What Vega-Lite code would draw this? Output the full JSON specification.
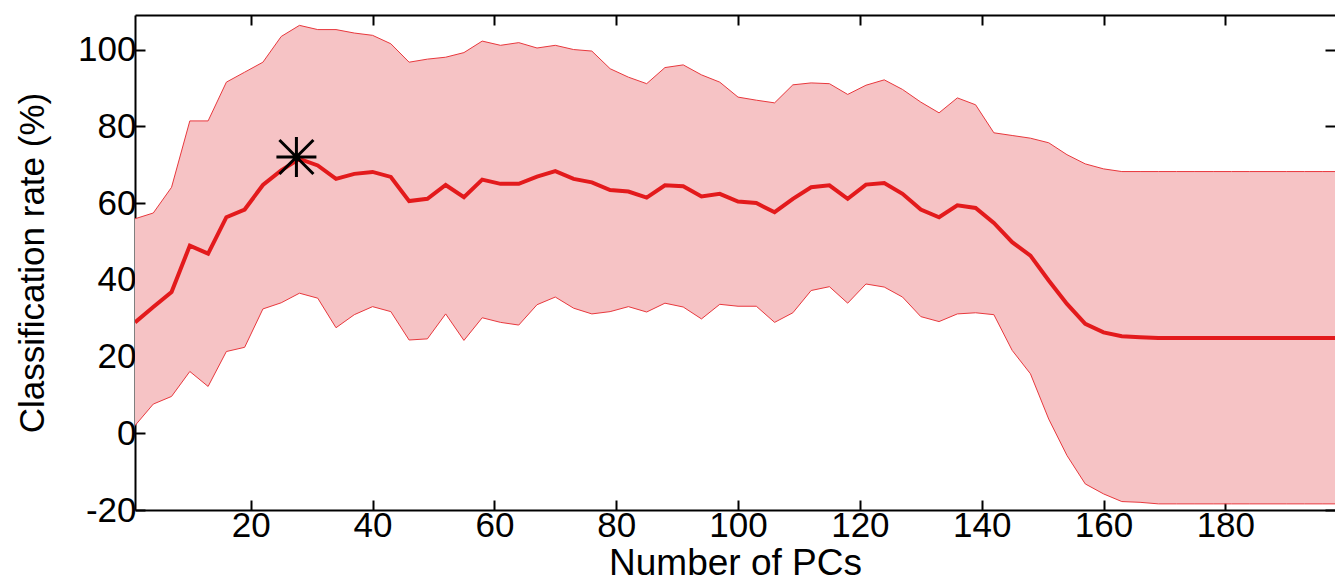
{
  "$schema": "https://vega.github.io/schema/vega-lite/v6.json",
  "width": 1200,
  "height": 495,
  "autosize": {"type": "none"},
  "padding": {"left": 135, "top": 15, "right": 0, "bottom": 73},
  "background": "white",
  "config": {
    "view": {"stroke": null},
    "axis": {
      "grid": false,
      "domainColor": "black",
      "domainWidth": 2,
      "tickColor": "black",
      "tickWidth": 2,
      "tickSize": -10,
      "labelColor": "black",
      "labelFont": "Liberation Sans",
      "labelFontSize": 35,
      "titleFont": "Liberation Sans",
      "titleColor": "black",
      "titleFontWeight": "normal",
      "labelFlush": false,
      "labelOverlap": false
    }
  },
  "datasets": {
    "band": [
      {"pc": 1, "lo": 2.0, "mean": 28.9, "hi": 55.9},
      {"pc": 4, "lo": 7.6, "mean": 32.9, "hi": 57.4},
      {"pc": 7, "lo": 9.6, "mean": 36.8, "hi": 64.1},
      {"pc": 10, "lo": 16.1, "mean": 48.9, "hi": 81.4},
      {"pc": 13, "lo": 12.2, "mean": 46.8, "hi": 81.4},
      {"pc": 16, "lo": 21.3, "mean": 56.3, "hi": 91.5},
      {"pc": 19, "lo": 22.4, "mean": 58.3, "hi": 94.1},
      {"pc": 22, "lo": 32.4, "mean": 64.7, "hi": 96.7},
      {"pc": 25, "lo": 34.0, "mean": 68.5, "hi": 103.4},
      {"pc": 28, "lo": 36.5, "mean": 71.5, "hi": 106.3},
      {"pc": 31, "lo": 35.2, "mean": 69.8, "hi": 105.2},
      {"pc": 34, "lo": 27.5, "mean": 66.3, "hi": 105.2},
      {"pc": 37, "lo": 30.9, "mean": 67.6, "hi": 104.3},
      {"pc": 40, "lo": 33.0, "mean": 68.1, "hi": 103.7},
      {"pc": 43, "lo": 31.7, "mean": 66.8, "hi": 101.5},
      {"pc": 46, "lo": 24.3, "mean": 60.5, "hi": 96.7},
      {"pc": 49, "lo": 24.6, "mean": 61.1, "hi": 97.5},
      {"pc": 52, "lo": 31.1, "mean": 64.7, "hi": 98.0},
      {"pc": 55, "lo": 24.2, "mean": 61.5, "hi": 99.2},
      {"pc": 58, "lo": 30.1, "mean": 66.1, "hi": 102.2},
      {"pc": 61, "lo": 28.9, "mean": 65.0, "hi": 101.1},
      {"pc": 64, "lo": 28.2, "mean": 65.0, "hi": 101.8},
      {"pc": 67, "lo": 33.5, "mean": 66.9, "hi": 100.4},
      {"pc": 70, "lo": 35.5, "mean": 68.3, "hi": 101.1},
      {"pc": 73, "lo": 32.6, "mean": 66.3, "hi": 100.0},
      {"pc": 76, "lo": 31.1, "mean": 65.4, "hi": 99.6},
      {"pc": 79, "lo": 31.7, "mean": 63.4, "hi": 95.0},
      {"pc": 82, "lo": 33.0, "mean": 63.0, "hi": 92.8},
      {"pc": 85, "lo": 31.6, "mean": 61.4, "hi": 91.1},
      {"pc": 88, "lo": 33.9, "mean": 64.6, "hi": 95.3},
      {"pc": 91, "lo": 32.9, "mean": 64.4, "hi": 96.0},
      {"pc": 94, "lo": 29.8, "mean": 61.7, "hi": 93.4},
      {"pc": 97, "lo": 33.6, "mean": 62.4, "hi": 91.5},
      {"pc": 100, "lo": 33.1, "mean": 60.4, "hi": 87.6},
      {"pc": 103, "lo": 33.1, "mean": 60.0, "hi": 86.8},
      {"pc": 106, "lo": 28.9, "mean": 57.6, "hi": 86.1},
      {"pc": 109, "lo": 31.4, "mean": 61.1, "hi": 90.8},
      {"pc": 112, "lo": 37.2, "mean": 64.1, "hi": 91.3},
      {"pc": 115, "lo": 38.2, "mean": 64.6, "hi": 91.1},
      {"pc": 118, "lo": 33.9, "mean": 61.1, "hi": 88.3},
      {"pc": 121, "lo": 38.9, "mean": 64.8, "hi": 90.7},
      {"pc": 124, "lo": 38.1, "mean": 65.2, "hi": 92.1},
      {"pc": 127, "lo": 35.5, "mean": 62.4, "hi": 89.6},
      {"pc": 130, "lo": 30.4, "mean": 58.3, "hi": 86.3},
      {"pc": 133, "lo": 29.1, "mean": 56.3, "hi": 83.5},
      {"pc": 136, "lo": 31.1, "mean": 59.4, "hi": 87.4},
      {"pc": 139, "lo": 31.4, "mean": 58.7, "hi": 85.6},
      {"pc": 142, "lo": 30.9, "mean": 54.8, "hi": 78.3},
      {"pc": 145, "lo": 21.6, "mean": 49.8, "hi": 77.6},
      {"pc": 148, "lo": 15.5, "mean": 46.3, "hi": 76.9},
      {"pc": 151, "lo": 3.7, "mean": 39.8, "hi": 75.7},
      {"pc": 154, "lo": -5.8, "mean": 33.7, "hi": 72.6},
      {"pc": 157, "lo": -13.2, "mean": 28.5, "hi": 70.2},
      {"pc": 160, "lo": -15.8, "mean": 26.3, "hi": 68.9},
      {"pc": 163, "lo": -17.8, "mean": 25.3, "hi": 68.2},
      {"pc": 166, "lo": -18.0, "mean": 25.0, "hi": 68.2},
      {"pc": 169, "lo": -18.4, "mean": 24.8, "hi": 68.2},
      {"pc": 172, "lo": -18.4, "mean": 24.8, "hi": 68.2},
      {"pc": 175, "lo": -18.4, "mean": 24.8, "hi": 68.2},
      {"pc": 178, "lo": -18.4, "mean": 24.8, "hi": 68.2},
      {"pc": 181, "lo": -18.4, "mean": 24.8, "hi": 68.2},
      {"pc": 184, "lo": -18.4, "mean": 24.8, "hi": 68.2},
      {"pc": 187, "lo": -18.4, "mean": 24.8, "hi": 68.2},
      {"pc": 190, "lo": -18.4, "mean": 24.8, "hi": 68.2},
      {"pc": 193, "lo": -18.4, "mean": 24.8, "hi": 68.2},
      {"pc": 196, "lo": -18.4, "mean": 24.8, "hi": 68.2},
      {"pc": 199, "lo": -18.4, "mean": 24.8, "hi": 68.2}
    ],
    "best": [{"pc": 27.5, "rate": 72.0}]
  },
  "resolve": {"axis": {"x": "independent", "y": "independent"}},
  "layer": [
    {
      "data": {"name": "band"},
      "mark": {"type": "area", "color": "#F6C3C5", "opacity": 1, "clip": true},
      "encoding": {
        "x": {
          "field": "pc", "type": "quantitative",
          "scale": {"domain": [1, 198], "nice": false, "zero": false},
          "axis": {
            "orient": "bottom",
            "values": [20, 40, 60, 80, 100, 120, 140, 160, 180],
            "labelPadding": 8,
            "title": "Number of PCs",
            "titleFontSize": 37,
            "titleBaseline": "bottom",
            "titleY": 72
          }
        },
        "y": {
          "field": "lo", "type": "quantitative",
          "scale": {"domain": [-20, 109], "nice": false, "zero": false},
          "axis": {
            "orient": "left",
            "values": [-20, 0, 20, 40, 60, 80, 100],
            "labelPadding": 9,
            "labelExpr": "'' + datum.value",
            "title": "Classification rate (%)",
            "titleFontSize": 35,
            "titleBaseline": "alphabetic",
            "titleX": -92
          }
        },
        "y2": {"field": "hi"}
      }
    },
    {
      "data": {"name": "band"},
      "mark": {"type": "line", "color": "#E8383D", "strokeWidth": 1, "clip": true},
      "encoding": {
        "x": {
          "field": "pc", "type": "quantitative",
          "axis": {
            "orient": "top",
            "values": [20, 40, 60, 80, 100, 120, 140, 160, 180],
            "labels": false,
            "title": null
          }
        },
        "y": {
          "field": "hi", "type": "quantitative",
          "axis": {
            "orient": "right",
            "values": [-20, 0, 20, 40, 60, 80, 100],
            "labels": false,
            "domain": false,
            "title": null
          }
        }
      }
    },
    {
      "data": {"name": "band"},
      "mark": {"type": "line", "color": "#E8383D", "strokeWidth": 1, "clip": true},
      "encoding": {
        "x": {"field": "pc", "type": "quantitative", "axis": null},
        "y": {"field": "lo", "type": "quantitative", "axis": null}
      }
    },
    {
      "data": {"name": "band"},
      "mark": {"type": "line", "color": "#E31A1C", "strokeWidth": 4, "clip": true},
      "encoding": {
        "x": {"field": "pc", "type": "quantitative", "axis": null},
        "y": {"field": "mean", "type": "quantitative", "axis": null}
      }
    },
    {
      "data": {"name": "best"},
      "mark": {
        "type": "point",
        "shape": "M-1,0L1,0M0,-1L0,1M-0.85,-0.85L0.85,0.85M-0.85,0.85L0.85,-0.85",
        "filled": false,
        "stroke": "black",
        "strokeWidth": 3,
        "opacity": 1,
        "size": 1600
      },
      "encoding": {
        "x": {"field": "pc", "type": "quantitative", "axis": null},
        "y": {"field": "rate", "type": "quantitative", "axis": null}
      }
    }
  ]
}
